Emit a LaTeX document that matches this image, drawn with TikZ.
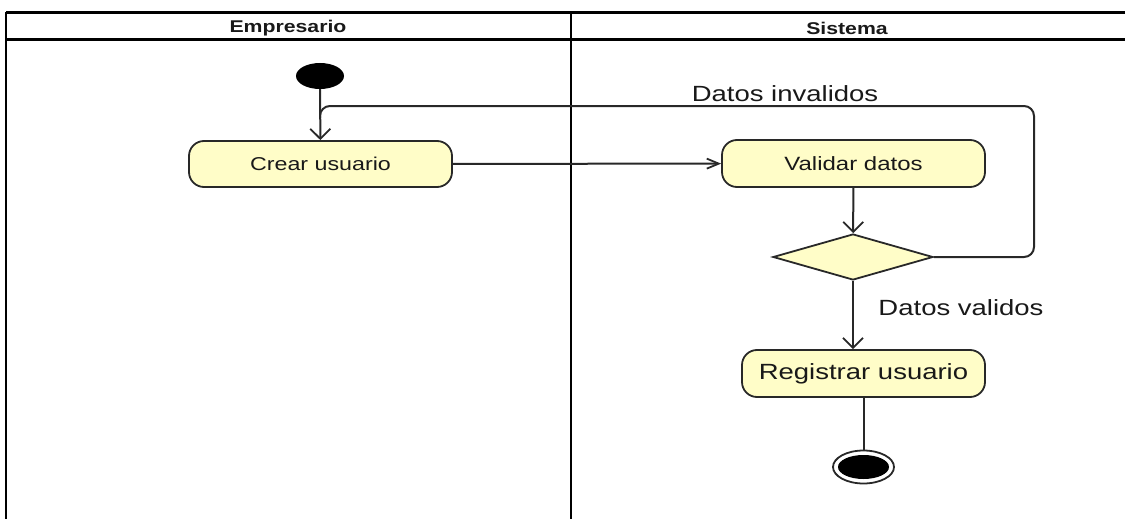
\documentclass[tikz,border=0pt]{standalone}
\usepackage{fontspec}
\setmainfont{Liberation Sans}[FakeStretch=1.25]
\usetikzlibrary{shapes.geometric,arrows.meta}
\definecolor{actfill}{RGB}{255,253,200}
\definecolor{txt}{RGB}{25,25,25}
\definecolor{edge}{RGB}{40,40,40}
\tikzset{
  activity/.style={draw=edge, line width=1.8pt, fill=actfill, rounded corners=15pt, inner sep=0pt, text=txt},
  decision/.style={diamond, draw=edge, line width=1.8pt, fill=actfill, inner sep=0pt},
  flow/.style={draw=edge, line width=2pt},
  vbarb/.style={-{Straight Barb[length=10pt,width=20pt,line width=1.8pt]}},
  hbarb/.style={-{Straight Barb[length=12pt,width=10pt,line width=1.8pt]}},
  frameline/.style={draw=black, line width=2.1pt},
  lbl/.style={text=txt, inner sep=0pt},
  hdr/.style={text=txt, inner sep=0pt, font=\fontsize{17}{19}\selectfont\bfseries}
}
\begin{document}
\begin{tikzpicture}[x=1pt,y=-1pt]
\useasboundingbox (0,0) rectangle (1125,519);
% swimlane frame
\draw[frameline] (6,12.5) -- (1125,12.5);
\draw[frameline] (6,39.5) -- (1125,39.5);
\draw[frameline, line width=2.6pt] (6,12) -- (6,519);
\draw[frameline] (571,12) -- (571,519);
\node[hdr] (hemp) at (288,28) {Empresario};
\node[hdr] (hsis) at (847,28) {Sistema};
% nodes
\node[ellipse, fill=black, minimum width=48pt, minimum height=26pt, inner sep=0pt] (init) at (320,76) {};
\node[activity, minimum width=263pt, minimum height=46pt, font=\fontsize{18.6}{20}\selectfont] (crear) at (320.5,164) {Crear usuario};
\node[activity, minimum width=263pt, minimum height=47pt, font=\fontsize{19.2}{21}\selectfont] (validar) at (853.5,163.5) {Validar datos};
\node[decision, minimum width=160pt, minimum height=46pt] (dec) at (853,257) {};
\node[activity, minimum width=243pt, minimum height=47pt, font=\fontsize{22}{24}\selectfont] (reg) at (863.5,373.5) {Registrar usuario};
\node[ellipse, draw=edge, line width=1.8pt, minimum width=61pt, minimum height=33pt, inner sep=0pt] (fin) at (863.5,467) {};
\node[ellipse, fill=black, minimum width=51pt, minimum height=24pt, inner sep=0pt] (finin) at (863.5,467) {};
% corner coordinates for the loop
\coordinate (lr) at (1034,257);
\coordinate (ur) at (1034,106);
\coordinate (ul) at (320,106);
% connectors
\draw[flow, vbarb] (init) -- (crear);
\draw[flow, hbarb] (crear) -- (validar);
\draw[flow, vbarb] (validar) -- (dec);
\draw[flow, rounded corners=10pt] (dec.east) -- (lr) -- (ur) -- (ul) -- ([yshift=-12pt]ul);
\draw[flow, vbarb] (dec.south) -- (dec.south |- reg.north);
\draw[flow] (reg) -- (fin);
% guard labels
\node[lbl, font=\fontsize{22}{24}\selectfont] (linv) at (785,94) {Datos invalidos};
\node[lbl, font=\fontsize{22}{24}\selectfont] (lval) at (961,308) {Datos validos};
\end{tikzpicture}
\end{document}
